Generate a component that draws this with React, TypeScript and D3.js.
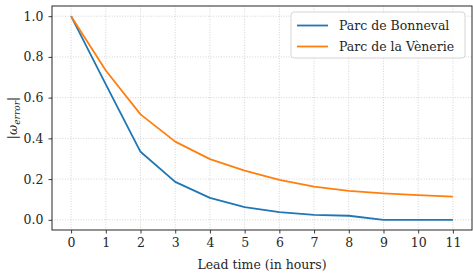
import { useEffect, useRef } from "react";
import * as d3 from "d3";

// lead time in hours
const leadHours = [0, 1, 2, 3, 4, 5, 6, 7, 8, 9, 10, 11];
const bonneval = [1.0, 0.665, 0.334, 0.186, 0.108, 0.062, 0.038, 0.024, 0.02, 0.0, 0.0, 0.0];
const venerie = [1.0, 0.733, 0.518, 0.384, 0.298, 0.242, 0.196, 0.163, 0.142, 0.13, 0.121, 0.114];
const yTicks = [0.0, 0.2, 0.4, 0.6, 0.8, 1.0];

const seriesList = [
  { name: "Parc de Bonneval", values: bonneval, color: "#1f77b4" },
  { name: "Parc de la Vènerie", values: venerie, color: "#ff7f0e" },
];

const W = 473;
const H = 274;
const FONT = "DejaVu Serif";
const FS = 12.5;

export default function App() {
  const ref = useRef<SVGSVGElement>(null);

  useEffect(() => {
    if (!ref.current) return;
    const svg = d3.select(ref.current);
    svg.selectAll("*").remove();

    const left = 52;
    const right = 472;
    const top = 6;
    const bottom = 230;

    const x = d3.scaleLinear().domain([-0.55, 11.55]).range([left, right]);
    const y = d3.scaleLinear().domain([-0.05, 1.05]).range([bottom, top]);

    svg.append("rect").attr("width", W).attr("height", H).attr("fill", "white");

    // grid
    const grid = svg.append("g").attr("stroke", "#c8c8c8").attr("stroke-width", 0.8).attr("stroke-dasharray", "1,1.6");
    grid
      .selectAll(".gx")
      .data(leadHours)
      .enter()
      .append("line")
      .attr("x1", (d) => x(d))
      .attr("x2", (d) => x(d))
      .attr("y1", top)
      .attr("y2", bottom);
    grid
      .selectAll(".gy")
      .data(yTicks)
      .enter()
      .append("line")
      .attr("y1", (d) => y(d))
      .attr("y2", (d) => y(d))
      .attr("x1", left)
      .attr("x2", right);

    // lines
    const line = d3
      .line<number>()
      .x((_, i) => x(leadHours[i]))
      .y((d) => y(d));
    seriesList.forEach((s) => {
      svg
        .append("path")
        .attr("d", line(s.values))
        .attr("fill", "none")
        .attr("stroke", s.color)
        .attr("stroke-width", 1.8)
        .attr("stroke-linejoin", "round");
    });

    // axes
    const xAxis = d3.axisBottom(x).tickValues(leadHours).tickSize(3.5).tickPadding(5).tickFormat(d3.format("d"));
    const gx = svg.append("g").attr("transform", `translate(0,${bottom})`).call(xAxis);
    const yAxis = d3.axisLeft(y).tickValues(yTicks).tickSize(3.5).tickPadding(5).tickFormat(d3.format(".1f"));
    const gy = svg.append("g").attr("transform", `translate(${left},0)`).call(yAxis);
    [gx, gy].forEach((g) => {
      g.attr("font-family", FONT).attr("font-size", FS);
      g.select(".domain").remove();
      g.selectAll(".tick line").attr("stroke", "#262626").attr("stroke-width", 0.9);
      g.selectAll(".tick text").attr("fill", "#262626");
    });

    // frame
    svg
      .append("rect")
      .attr("x", left)
      .attr("y", top)
      .attr("width", right - left)
      .attr("height", bottom - top)
      .attr("fill", "none")
      .attr("stroke", "#262626")
      .attr("stroke-width", 1);

    // axis labels
    svg
      .append("text")
      .attr("x", 262)
      .attr("y", 269)
      .attr("text-anchor", "middle")
      .attr("font-size", FS)
      .attr("fill", "#262626")
      .text("Lead time (in hours)");

    const yl = svg
      .append("text")
      .attr("transform", `translate(17,${(top + bottom) / 2}) rotate(-90)`)
      .attr("text-anchor", "middle")
      .attr("font-size", FS)
      .attr("fill", "#262626");
    yl.append("tspan").text("|");
    yl.append("tspan").attr("font-style", "italic").text("ω");
    yl.append("tspan").attr("font-style", "italic").attr("font-size", 9).attr("dy", 3).text("error");
    yl.append("tspan").attr("dy", -3).text("|");

    // legend
    const lg = svg.append("g").attr("transform", "translate(291,12)");
    lg.append("rect")
      .attr("width", 174)
      .attr("height", 46)
      .attr("rx", 3)
      .attr("fill", "white")
      .attr("fill-opacity", 0.85)
      .attr("stroke", "#d6d6d6")
      .attr("stroke-width", 1);
    seriesList.forEach((s, i) => {
      const yy = 13.5 + i * 21;
      lg.append("line")
        .attr("x1", 6)
        .attr("x2", 37)
        .attr("y1", yy)
        .attr("y2", yy)
        .attr("stroke", s.color)
        .attr("stroke-width", 1.8);
      lg.append("text")
        .attr("x", 48)
        .attr("y", yy)
        .attr("dy", "0.35em")
        .attr("font-size", FS)
        .attr("fill", "#262626")
        .text(s.name);
    });
  }, []);

  return (
    <svg
      ref={ref}
      width={W}
      height={H}
      fontFamily={FONT}
      style={{ display: "block", position: "fixed", left: 0, top: 0 }}
    />
  );
}
